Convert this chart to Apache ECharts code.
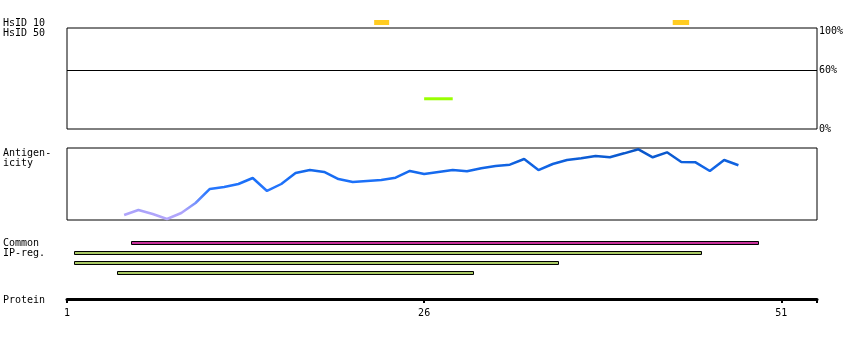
<!DOCTYPE html>
<html><head><meta charset="utf-8">
<script src="https://cdn.jsdelivr.net/npm/echarts@6/dist/echarts.min.js"></script>
<style>html,body{margin:0;padding:0;background:#fff}#c{width:850px;height:340px}</style>
</head><body><div id="c"></div>
<script>
// ---- data ----
const proteinRange = [1, 53.5];
const proteinTicks = [1, 26, 51];
const hsid10Start = [22.5, 43.4];
const hsid10End = [23.55, 44.55];
const hsid50Start = [26];
const hsid50End = [28];
const hsid50Value = [31];
const hsid50Threshold = 60;
const hsid50Labels = [0, 60, 100];
const antigenPos = [5,6,7,8,9,10,11,12,13,14,15,16,17,18,19,20,21,22,23,24,25,26,27,28,29,30,31,32,33,34,35,36,37,38,39,40,41,42,43,44,45,46,47,48];
const antigenValues = [6.9,13.9,8.3,1.4,9.7,23.6,43.1,45.8,50.0,58.3,40.3,50.0,65.3,69.4,66.7,56.9,52.8,54.2,55.6,58.8,68.1,63.9,66.7,69.4,67.6,71.8,75.0,76.8,84.7,69.4,77.8,83.3,85.7,88.9,87.1,92.6,98.2,87.1,94.0,80.6,80.1,68.1,83.3,76.0];
const ipStart = [5.5, 1.5, 1.5, 4.5];
const ipEnd = [49.45, 45.45, 35.45, 29.5];
const ipKind = ['common', 'ip', 'ip', 'ip'];

// ---- chart ----
const FONT = '"DejaVu Sans Mono", monospace';
const L = 67, W = 750;
const chart = echarts.init(document.getElementById('c'), null, {renderer: 'canvas'});

function bar(h, bordered) {
  return function (params, api) {
    const p0 = api.coord([api.value(0), api.value(2)]);
    const p1 = api.coord([api.value(1), api.value(2)]);
    let x0 = p0[0], x1 = p1[0], y0 = p0[1] - h / 2;
    if (bordered) { x0 = Math.round(x0) + 0.5; x1 = Math.round(x1) - 0.5; y0 = Math.floor(y0) + 0.5; }
    return {
      type: 'rect',
      shape: {x: x0, y: y0, width: x1 - x0, height: h},
      style: {fill: api.visual('color'), stroke: bordered ? '#000' : null, lineWidth: bordered ? 1 : 0}
    };
  };
}

const xCommon = {type: 'value', min: proteinRange[0], max: proteinRange[1], show: false};

const option = {
  animation: false,
  backgroundColor: '#fff',
  textStyle: {fontFamily: FONT},
  grid: [
    {left: L, width: W, top: 17, height: 11},
    {left: L, width: W, top: 28, height: 101, show: true, borderColor: '#000', borderWidth: 1},
    {left: L, width: W, top: 148, height: 72, show: true, borderColor: '#000', borderWidth: 1},
    {left: L, width: W, top: 238, height: 40},
    {left: L, width: W, top: 280, height: 19}
  ],
  xAxis: [
    Object.assign({gridIndex: 0}, xCommon),
    Object.assign({gridIndex: 1}, xCommon),
    Object.assign({gridIndex: 2}, xCommon),
    Object.assign({gridIndex: 3}, xCommon),
    {
      gridIndex: 4, type: 'value', min: proteinRange[0], max: proteinRange[1],
      axisLine: {show: true, onZero: false, lineStyle: {color: '#000', width: 3}},
      axisTick: {show: true, length: 4, lineStyle: {color: '#000', width: 2},
                 customValues: proteinTicks.concat([proteinRange[1]])},
      axisLabel: {show: true, customValues: proteinTicks, margin: 9,
                  fontFamily: FONT, fontSize: 10, color: '#000'},
      splitLine: {show: false}
    }
  ],
  yAxis: [
    {gridIndex: 0, type: 'value', min: 0, max: 1, show: false},
    {gridIndex: 1, type: 'value', min: 0, max: 103.6, position: 'right',
     axisLine: {show: false}, axisTick: {show: false}, splitLine: {show: false},
     axisLabel: {show: true, customValues: hsid50Labels, formatter: '{value}%', margin: 2,
                 padding: [3, 0, 0, 0],
                 fontFamily: FONT, fontSize: 10, color: '#000'}},
    {gridIndex: 2, type: 'value', min: 0, max: 100, show: false},
    {gridIndex: 3, type: 'value', min: -0.5, max: 3.5, inverse: true, show: false},
    {gridIndex: 4, type: 'value', min: 0, max: 1, show: false}
  ],
  visualMap: {
    type: 'continuous', show: false, seriesIndex: 2, dimension: 1, min: 0, max: 100,
    inRange: {color: ['#b5a7fb', '#aca3fb', '#6f8ffd', '#2f7aff', '#1e72fb', '#176cf2', '#1164e4', '#0c5cd4', '#0852c2']}
  },
  series: [
    {
      type: 'custom', xAxisIndex: 0, yAxisIndex: 0, renderItem: bar(5, false),
      itemStyle: {color: '#ffcc22'}, encode: {x: [0, 1], y: 2},
      data: hsid10Start.map((s, i) => [s, hsid10End[i], 0.5])
    },
    {
      type: 'custom', xAxisIndex: 1, yAxisIndex: 1, renderItem: bar(3, false),
      itemStyle: {color: '#99ff00'}, encode: {x: [0, 1], y: 2},
      data: hsid50Start.map((s, i) => [s, hsid50End[i], hsid50Value[i]]),
      markLine: {silent: true, symbol: 'none', label: {show: false},
                 lineStyle: {color: '#000', width: 1, type: 'solid'},
                 data: [{yAxis: hsid50Threshold}]}
    },
    {
      type: 'line', xAxisIndex: 2, yAxisIndex: 2, symbol: 'none', smooth: false,
      lineStyle: {width: 2.5},
      data: antigenPos.map((p, i) => [p, antigenValues[i]])
    },
    {
      type: 'custom', xAxisIndex: 3, yAxisIndex: 3, renderItem: bar(3, true),
      encode: {x: [0, 1], y: 2},
      data: ipStart.map((s, i) => ({
        value: [s, ipEnd[i], i],
        itemStyle: {color: ipKind[i] === 'common' ? '#c8329c' : '#a8c864'}
      }))
    }
  ],
  graphic: [
    {type: 'text', left: 3, top: 18, style: {text: 'HsID 10', font: '10px ' + FONT, fill: '#000'}},
    {type: 'text', left: 3, top: 28, style: {text: 'HsID 50', font: '10px ' + FONT, fill: '#000'}},
    {type: 'text', left: 3, top: 148, style: {text: 'Antigen-', font: '10px ' + FONT, fill: '#000'}},
    {type: 'text', left: 3, top: 158, style: {text: 'icity', font: '10px ' + FONT, fill: '#000'}},
    {type: 'text', left: 3, top: 238, style: {text: 'Common', font: '10px ' + FONT, fill: '#000'}},
    {type: 'text', left: 3, top: 248, style: {text: 'IP-reg.', font: '10px ' + FONT, fill: '#000'}},
    {type: 'text', left: 3, top: 295, style: {text: 'Protein', font: '10px ' + FONT, fill: '#000'}}
  ]
};
chart.setOption(option);
</script>
</body></html>
